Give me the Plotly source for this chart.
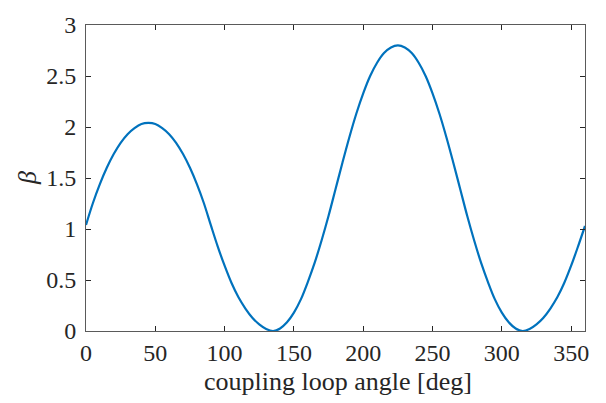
import plotly.graph_objects as go

angle_deg = [0, 5, 10, 15, 20, 25, 30, 35, 40, 45, 50, 55, 60, 65, 70, 75, 80, 85, 90,
             95, 100, 105, 110, 115, 120, 125, 130, 135, 140, 145, 150, 155, 160, 165, 170,
             175, 180, 185, 190, 195, 200, 205, 210, 215, 220, 225, 230, 235, 240, 245,
             250, 255, 260, 265, 270, 275, 280, 285, 290, 295, 300, 305, 310, 315, 320,
             325, 330, 335, 340, 345, 350, 355, 360]
beta = [1.04, 1.255, 1.44, 1.60, 1.735, 1.845, 1.93, 1.99, 2.03, 2.04, 2.03, 1.99, 1.93,
        1.845, 1.735, 1.60, 1.44, 1.255, 1.04,
        0.83, 0.64, 0.47, 0.33, 0.22, 0.13, 0.065, 0.02, 0.0, 0.025, 0.085, 0.18, 0.31, 0.48,
        0.67, 0.89, 1.13, 1.39, 1.65, 1.90, 2.13, 2.33, 2.50, 2.63, 2.725, 2.78, 2.80, 2.78,
        2.725, 2.63, 2.50, 2.33, 2.13, 1.90, 1.65, 1.39, 1.13, 0.89, 0.67, 0.48, 0.31, 0.18,
        0.085, 0.025, 0.0, 0.02, 0.065, 0.13, 0.22, 0.33, 0.47, 0.64, 0.83, 1.03]

x_ticks = [0, 50, 100, 150, 200, 250, 300, 350]
y_ticks = [0, 0.5, 1, 1.5, 2, 2.5, 3]
y_tick_labels = ["0", "0.5", "1", "1.5", "2", "2.5", "3"]
x_title = "coupling loop angle [deg]"
y_title = "<i>β</i>"

family = "Liberation Serif, Times New Roman, serif"
tick_font = dict(family=family, size=24, color="#262626")
title_font = dict(family=family, size=26, color="#262626")
axcol = "#5a5a5a"

fig = go.Figure()
fig.add_trace(go.Scatter(x=angle_deg, y=beta, mode="lines",
                         line=dict(color="#0072BD", width=2.2, shape="spline", smoothing=1.0),
                         showlegend=False, hoverinfo="skip"))

fig.update_layout(
    width=606, height=403,
    margin=dict(l=86, r=21, t=17, b=72),
    paper_bgcolor="white", plot_bgcolor="white",
    font=tick_font,
)
fig.update_xaxes(range=[0, 360], tickvals=x_ticks, ticks="inside", ticklen=5,
                 tickcolor="#262626", tickwidth=1,
                 showline=True, linecolor=axcol, linewidth=1, mirror="ticks",
                 showgrid=False, zeroline=False, tickfont=tick_font)
fig.update_yaxes(range=[0, 3], tickvals=y_ticks, ticktext=y_tick_labels, ticks="inside",
                 ticklen=5, tickcolor="#262626", tickwidth=1,
                 showline=True, linecolor=axcol, linewidth=1, mirror="ticks",
                 showgrid=False, zeroline=False, tickfont=tick_font,
                 ticklabelstandoff=4)

fig.add_annotation(text=x_title, xref="paper", yref="paper", x=0.505, y=-0.166,
                   xanchor="center", yanchor="middle", showarrow=False, font=title_font)
fig.add_annotation(text=y_title, xref="paper", yref="paper", x=-0.118, y=0.5,
                   xanchor="center", yanchor="middle", showarrow=False, font=title_font,
                   textangle=-90)

fig.write_html("out.html")
